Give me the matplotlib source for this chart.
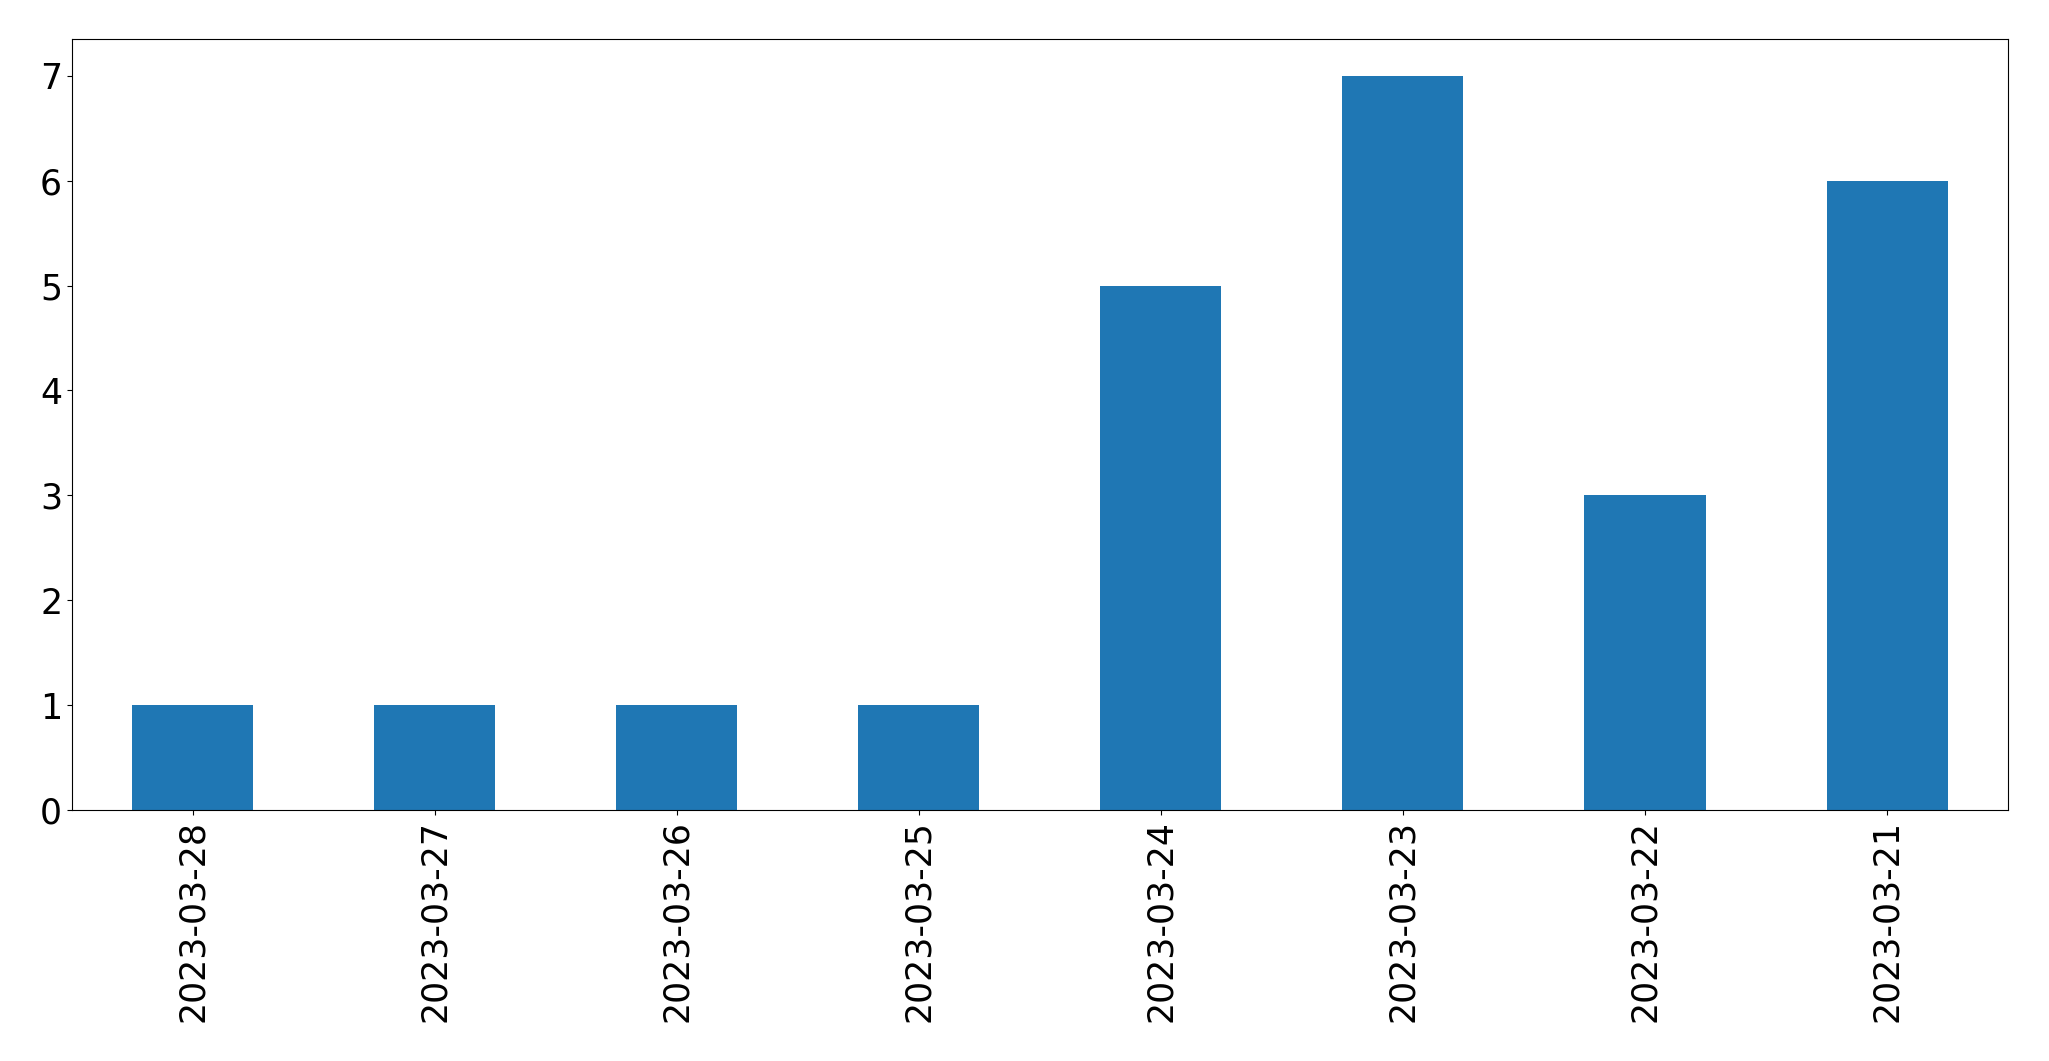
import matplotlib
matplotlib.use("Agg")
import matplotlib.pyplot as plt

dates = ["2023-03-28", "2023-03-27", "2023-03-26", "2023-03-25",
         "2023-03-24", "2023-03-23", "2023-03-22", "2023-03-21"]
counts = [1, 1, 1, 1, 5, 7, 3, 6]

fig = plt.figure(figsize=(20.49, 10.61), dpi=100)
ax = fig.add_axes([0.0351, 0.2366, 0.9449, 0.7266])
x = list(range(len(dates)))
ax.bar(x, counts, width=0.5, color="#1f77b4")
ax.set_xlim(-0.5, len(dates) - 0.5)
ax.set_ylim(0, 7.35)
ax.set_xticks(x)
ax.set_xticklabels(dates, rotation=90)
ax.tick_params(axis="both", labelsize=25)
fig.savefig("out.png", dpi=100)
